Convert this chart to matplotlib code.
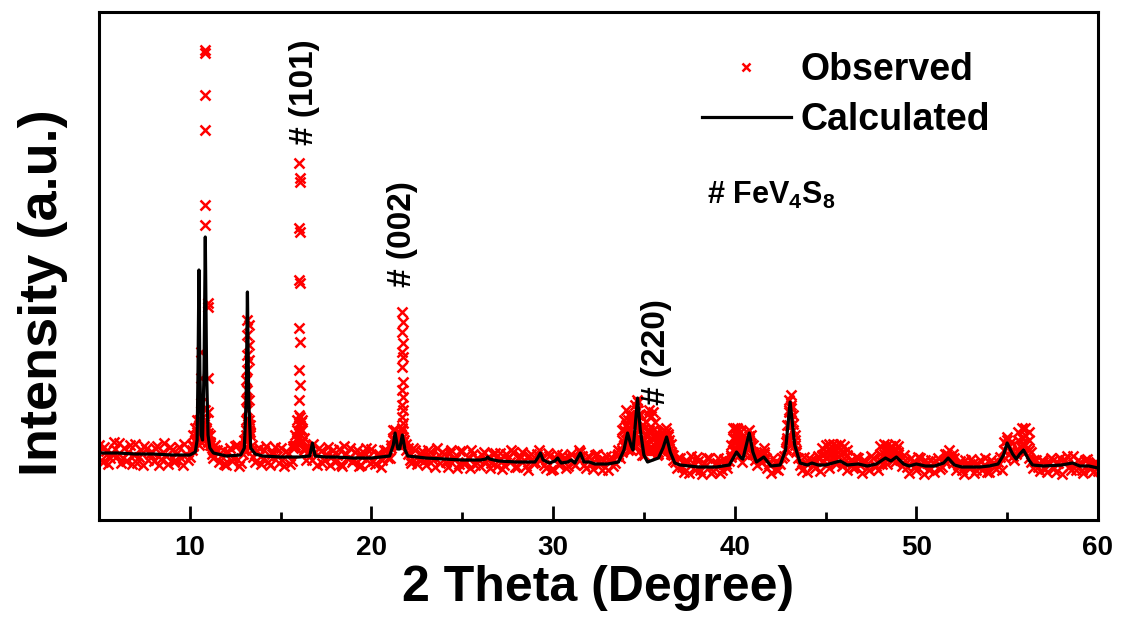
import numpy as np
import matplotlib.pyplot as plt
from matplotlib.ticker import MultipleLocator

plt.rcParams['font.family'] = ['Liberation Sans', 'DejaVu Sans']
plt.rcParams['font.weight'] = 'bold'
plt.rcParams['mathtext.fontset'] = 'custom'
plt.rcParams['mathtext.rm'] = 'Liberation Sans:bold'
plt.rcParams['mathtext.bf'] = 'Liberation Sans:bold'
plt.rcParams['mathtext.it'] = 'Liberation Sans:bold'

# calculated profile (2theta, intensity a.u.)
calc_t = [5.0, 6.0, 7.0, 8.0, 9.0, 10.0, 10.3, 10.4, 10.45, 10.5, 10.55, 10.62, 10.7, 10.78,
          10.85, 10.92, 11.0, 11.1, 11.3, 12.0, 12.8, 13.0, 13.1, 13.17, 13.24, 13.35, 13.6,
          14.0, 15.0, 16.0, 16.6, 16.75, 16.9, 17.5, 18.0, 19.0, 20.0, 21.0, 21.2, 21.3, 21.45,
          21.55, 21.7, 21.85, 22.0, 23.0, 24.0, 25.0, 26.0, 26.3, 26.4, 26.5, 27.0, 28.0, 29.0,
          29.15, 29.3, 29.45, 29.8, 30.1, 30.25, 30.45, 30.8, 31.0, 31.2, 31.5, 31.7, 32.0, 32.3,
          33.0, 33.6, 33.9, 34.1, 34.3, 34.4, 34.5, 34.65, 34.8, 35.0, 35.2, 35.5, 35.8, 36.05,
          36.25, 36.45, 36.7, 37.0, 38.0, 39.0, 39.7, 40.1, 40.35, 40.45, 40.6, 40.8, 41.0, 41.2,
          41.6, 42.0, 42.5, 42.8, 43.05, 43.3, 43.6, 44.0, 44.25, 44.6, 45.0, 45.4, 45.8, 46.2,
          46.8, 47.3, 47.8, 48.3, 48.6, 48.9, 49.3, 49.6, 50.0, 50.5, 51.0, 51.5, 51.75, 52.1,
          52.5, 53.0, 53.5, 54.0, 54.5, 54.8, 55.0, 55.3, 55.5, 55.7, 55.9, 56.2, 56.4, 57.0,
          58.0, 58.6, 59.0, 59.5, 60.0]
calc_i = [67, 67, 66, 66, 65, 65, 68, 80, 150, 250, 150, 85, 80, 150,
          283, 150, 85, 72, 67, 64, 65, 72, 120, 228, 120, 72, 66,
          64, 63, 63, 64, 77, 64, 63, 63, 62, 62, 64, 75, 87, 71,
          71, 85, 70, 64, 62, 61, 60, 60, 61, 63, 61, 59, 58, 58,
          62, 67, 60, 57, 59, 62, 57, 58, 60, 57, 67, 58, 58, 56,
          56, 58, 70, 87, 74, 70, 90, 122, 90, 65, 58, 60, 62, 72,
          83, 68, 57, 55, 53, 53, 55, 68, 62, 61, 72, 87, 68, 58,
          63, 54, 55, 70, 118, 75, 57, 55, 57, 55, 55, 57, 59, 55,
          56, 54, 56, 62, 59, 63, 56, 54, 56, 54, 54, 57, 62, 55,
          53, 53, 53, 54, 56, 65, 77, 66, 61, 66, 70, 60, 55, 54,
          55, 57, 54, 54, 52]

# observed scan, 5 to 60 deg, 0.1 deg steps; stored as the even (x.0, x.2 ...)
# and odd (x.1, x.3 ...) points, one row per degree
scan_start, scan_step = 5.0, 0.2
obs_even = [75, 58, 69, 62, 78,
            64, 57, 72, 68, 56,
            76, 63, 55, 71, 66,
            59, 74, 61, 77, 56,
            70, 60, 73, 55, 66,
            63, 74, 88, 82, 96,
            84, 66, 75, 58, 70,
            55, 72, 62, 75, 57,
            70, 96, 70, 58, 72,
            61, 74, 55, 68, 64,
            72, 54, 66, 59, 73,
            105, 78, 60, 70, 76,
            55, 69, 60, 73, 64,
            58, 71, 54, 66, 72,
            60, 70, 55, 67, 63,
            71, 56, 66, 60, 70,
            62, 82, 76, 86, 80,
            66, 57, 70, 61, 69,
            55, 68, 60, 72, 57,
            66, 53, 70, 61, 56,
            69, 58, 52, 66, 62,
            54, 68, 63, 57, 67,
            60, 51, 66, 58, 68,
            53, 64, 60, 50, 66,
            58, 70, 62, 52, 64,
            51, 66, 57, 62, 54,
            66, 55, 70, 64, 52,
            63, 51, 66, 56, 60,
            50, 63, 57, 66, 68,
            88, 80, 74, 110, 92,
            70, 76, 82, 74, 66,
            72, 80, 70, 60, 52,
            62, 48, 58, 64, 50,
            59, 46, 55, 62, 49,
            57, 47, 61, 52, 63,
            70, 64, 58, 74, 84,
            66, 55, 62, 66, 52,
            47, 58, 50, 62, 72,
            108, 96, 70, 55, 63,
            48, 60, 52, 64, 58,
            62, 52, 64, 56, 66,
            58, 50, 60, 53, 62,
            47, 58, 50, 62, 54,
            60, 66, 56, 64, 58,
            66, 54, 60, 47, 58,
            50, 62, 46, 57, 60,
            48, 62, 53, 58, 64,
            57, 50, 59, 46, 55,
            61, 47, 56, 50, 62,
            48, 57, 51, 63, 70,
            80, 68, 60, 70, 76,
            68, 62, 52, 60, 49,
            58, 48, 62, 52, 57,
            46, 60, 53, 64, 50,
            58, 47, 61, 52, 57,
            49]
obs_odd = [60, 73, 56, 66, 71,
           77, 62, 59, 75, 65,
           57, 70, 74, 60, 68,
           72, 55, 68, 64, 73,
           58, 67, 62, 76, 60,
           70, 80, 100, 86, 92,
           78, 62, 70, 64, 56,
           68, 59, 74, 54, 66,
           85, 88, 63, 69, 56,
           70, 58, 66, 73, 57,
           60, 69, 56, 74, 82,
           98, 70, 66, 60, 68,
           72, 57, 66, 55, 70,
           65, 56, 74, 61, 58,
           68, 54, 63, 72, 57,
           59, 66, 53, 70, 62,
           72, 90, 78, 92, 70,
           60, 72, 56, 66, 59,
           70, 63, 53, 65, 68,
           58, 67, 62, 52, 69,
           56, 63, 70, 55, 60,
           65, 58, 52, 66, 54,
           67, 55, 62, 70, 53,
           61, 68, 54, 64, 57,
           66, 60, 55, 67, 50,
           62, 55, 65, 52, 63,
           57, 62, 68, 55, 64,
           56, 65, 59, 50, 64,
           60, 54, 64, 62, 75,
           92, 84, 100, 105, 80,
           78, 88, 84, 72, 76,
           78, 84, 66, 58, 62,
           53, 60, 47, 57, 63,
           50, 57, 62, 47, 56,
           62, 50, 56, 59, 70,
           80, 72, 66, 80, 74,
           60, 66, 58, 62, 56,
           62, 51, 56, 64, 82,
           112, 80, 62, 50, 57,
           62, 55, 59, 49, 66,
           56, 68, 60, 64, 54,
           64, 57, 52, 63, 55,
           60, 52, 64, 55, 50,
           56, 62, 70, 60, 70,
           60, 65, 53, 62, 54,
           63, 55, 60, 50, 57,
           59, 51, 60, 66, 62,
           62, 55, 50, 60, 54,
           57, 50, 60, 55, 48,
           60, 53, 58, 50, 62,
           74, 64, 66, 74, 82,
           72, 58, 60, 53, 60,
           51, 57, 60, 48, 62,
           58, 64, 50, 56, 60,
           50, 60, 56, 48, 58]

# extra observed counts at the strong reflections (2theta, intensities)
obs_peaks = [
    (10.2, [75, 85]), (10.3, [80, 92]), (10.4, [85, 100]), (10.5, [75, 80, 95]),
    (10.6, [168, 142, 117, 95, 85]), (10.7, [80, 95]),
    (10.85, [470, 467, 425, 390, 315, 295, 110, 87]), (10.9, [90, 100]),
    (11.0, [217, 213, 142, 108, 87, 78]), (11.1, [75, 85]), (11.2, [72]),
    (13.0, [72, 80]), (13.1, [80, 90, 100, 120, 140]),
    (13.17, [200, 185, 165, 150, 130, 110]), (13.24, [195, 175, 160, 120, 100, 90]),
    (13.3, [85, 95]), (13.4, [75]),
    (15.7, [72]), (15.8, [75, 85]), (15.9, [80, 90, 100]),
    (16.0, [357, 292, 240, 192, 150, 120, 95, 83]),
    (16.07, [342, 338, 288, 237, 178, 135, 103, 90, 77]),
    (16.2, [80, 90, 100]), (16.3, [72, 82]), (16.4, [72]),
    (21.1, [75]), (21.2, [80, 90]), (21.4, [78, 88]), (21.5, [80]),
    (21.68, [208, 188, 168, 153, 130, 115, 103, 90]),
    (21.74, [198, 177, 163, 138, 123, 110, 97, 83, 78]),
    (21.9, [76]), (22.0, [72]),
    (33.6, [65, 70]), (33.8, [70, 80, 90]), (33.9, [75, 90, 100]), (34.0, [80, 95, 110]),
    (34.1, [70, 85, 100]), (34.2, [75, 90, 105]), (34.3, [70, 85, 100]), (34.4, [80, 95, 105]),
    (34.5, [75, 95, 115]), (34.6, [80, 100, 120]), (34.7, [80, 100, 118]), (34.8, [70, 90, 105]),
    (34.9, [65, 80, 95]), (35.0, [65, 80, 92]), (35.1, [70, 85, 98]), (35.2, [70, 90, 106]),
    (35.3, [70, 90, 110]), (35.4, [70, 88, 104]), (35.5, [70, 90, 108]), (35.6, [70, 85, 98]),
    (35.7, [65, 78, 88]), (35.8, [68, 80]), (35.9, [70, 82]), (36.0, [70, 82, 88]),
    (36.1, [72, 85, 90]), (36.2, [75, 88, 92]), (36.3, [75, 86]), (36.4, [70, 80]),
    (36.5, [68, 76]), (36.6, [65]),
    (39.8, [65, 75]), (39.9, [70, 82, 92]), (40.0, [70, 82, 92]), (40.1, [75, 85, 92]),
    (40.2, [70, 82, 90]), (40.3, [70, 80, 88]), (40.4, [68, 78]), (40.5, [70, 80]),
    (40.6, [72, 82]), (40.7, [78, 88]), (40.8, [80, 90]), (40.9, [75, 85]),
    (41.0, [68, 75]), (41.1, [65]), (41.4, [65]), (41.6, [68, 72]),
    (42.8, [70, 78]), (42.9, [80, 95]), (43.0, [95, 110, 120]), (43.1, [100, 115, 125]),
    (43.2, [90, 105]), (43.3, [75, 85]), (43.4, [68]),
    (44.8, [65, 72]), (45.0, [68, 75]), (45.2, [70, 76]), (45.4, [68, 76]),
    (45.6, [70, 75]), (45.8, [70, 76]), (46.0, [68, 74]), (46.2, [65, 70]),
    (48.0, [66, 74]), (48.2, [70, 76]), (48.4, [70, 75]), (48.6, [68, 74]),
    (48.8, [70, 76]), (49.0, [68, 74]),
    (51.6, [66]), (51.8, [70]), (52.0, [66]),
    (54.8, [70, 78]), (55.0, [75, 83]), (55.2, [70, 78]),
    (55.6, [70, 80, 88]), (55.8, [72, 82, 92]), (56.0, [75, 85, 92]), (56.2, [70, 80, 88]),
    (56.3, [68]),
]

# reflection labels (text, 2theta, intensity of label foot)
hkl_labels = [('# (101)', 16.3, 375), ('# (002)', 21.7, 233), ('# (220)', 35.7, 115)]

obs_t = list(scan_start + scan_step * np.arange(len(obs_even)))
obs_t += list(scan_start + scan_step / 2 + scan_step * np.arange(len(obs_odd)))
obs_i = list(obs_even) + list(obs_odd)
for t, vals in obs_peaks:
    obs_t += [t] * len(vals)
    obs_i += vals

fig = plt.figure(figsize=(11.23, 6.32), dpi=100)
ax = fig.add_axes([0.0882, 0.1772, 0.8895, 0.8038])

ax.plot(obs_t, obs_i, 'x', color='red', ms=7.5, mew=1.8, label='Observed')
ax.plot(calc_t, calc_i, '-', color='black', lw=2.3, label='Calculated')

for txt, t, v in hkl_labels:
    ax.text(t, v, txt, rotation=90, ha='center', va='bottom', fontsize=24, fontweight='bold')
ax.text(38.48, 325, r'# FeV$_4$S$_8$', fontsize=22, fontweight='bold', ha='left', va='center')

ax.legend(frameon=False, loc='upper left', bbox_to_anchor=(0.604, 0.922), fontsize=27,
          handlelength=2.35, handletextpad=0.27, labelspacing=0.38, borderpad=0,
          borderaxespad=0, markerscale=0.7, numpoints=1)

ax.set_xlim(5, 60)
ax.set_ylim(0, 508)
ax.xaxis.set_major_locator(MultipleLocator(10))
ax.xaxis.set_minor_locator(MultipleLocator(5))
ax.tick_params(axis='x', which='major', direction='in', length=10, width=2,
               labelsize=20, pad=11)
ax.tick_params(axis='x', which='minor', direction='in', length=6, width=2)
ax.set_yticks([])
for s in ax.spines.values():
    s.set_linewidth(2.2)

ax.set_xlabel('2 Theta (Degree)', fontsize=36, fontweight='bold', labelpad=3)
ax.set_ylabel('Intensity (a.u.)', fontsize=39, fontweight='bold')
ax.yaxis.set_label_coords(-0.031, 0.447)

fig.savefig('out.png', dpi=100)
